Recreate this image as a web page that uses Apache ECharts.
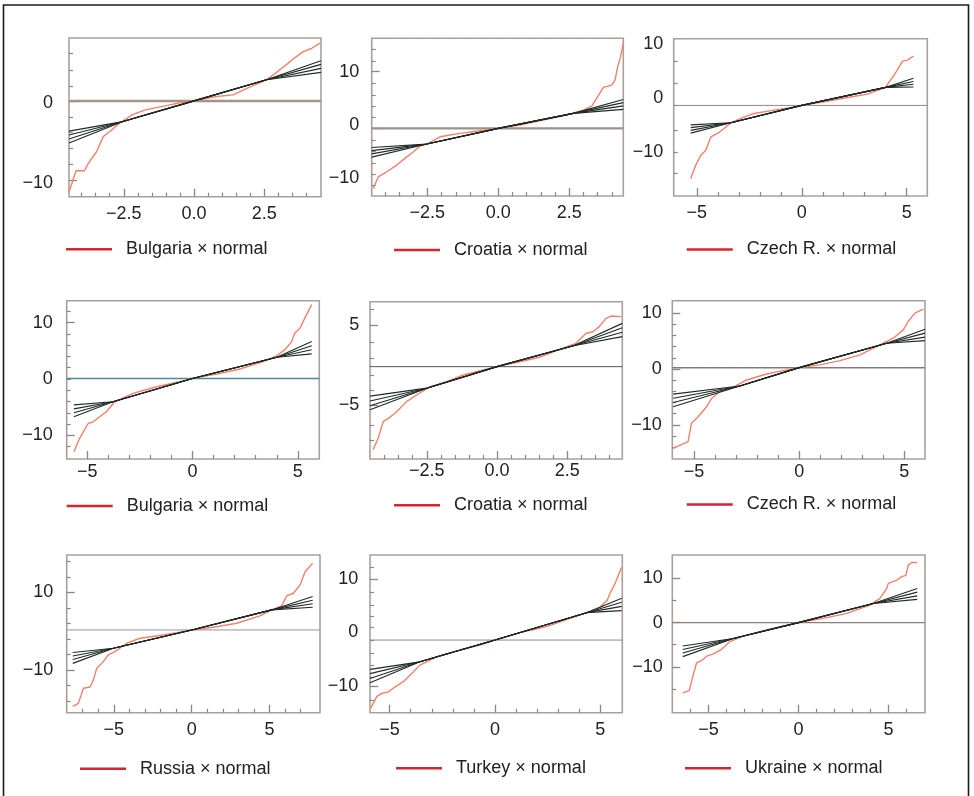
<!DOCTYPE html>
<html><head><meta charset="utf-8">
<script src="https://cdn.jsdelivr.net/npm/echarts@6/dist/echarts.min.js"></script>
<style>html,body{margin:0;padding:0;background:#fff}#c{width:974px;height:796px}</style>
</head><body><div id="c"></div><script>
// ---------- names ----------
const panelNames = ['Bulgaria × normal','Croatia × normal','Czech R. × normal','Bulgaria × normal','Croatia × normal','Czech R. × normal','Russia × normal','Turkey × normal','Ukraine × normal'];

// ---------- axis extents ----------
const xRanges = [[-4.45,4.52],[-4.46,4.40],[-6.1,5.98],[-5.98,6.02],[-4.52,4.46],[-6.03,5.98],[-8.03,8.24],[-5.93,6.04],[-7.01,7.03]];
const yRanges = [[-11.76,8.22],[-13.3,16.27],[-18.1,10.9],[-14.2,13.9],[-11.75,7.91],[-16.1,12.2],[-21.0,19.6],[-15.0,14.5],[-20.4,15.3]];

// ---------- tick labels & ticks ----------
const xLabelsDec = [-2.5,0,2.5];
const xLabelsInt = [-5,0,5];
const xMinorHalf = [-4,-3.5,-3,-2,-1.5,-1,-0.5,0.5,1,1.5,2,3,3.5,4];
const xMinorUnit = [-4,-3,-2,-1,1,2,3,4];
const xMinorRussia = [-7,-6,-4,-3,-2,-1,1,2,3,4,6,7];
const xMinorUkraine = [-6,-4,-3,-2,-1,1,2,3,4,6];

const p1YLabels = [0,-10], p1YMinor = [6.3,4.19,2.18,-1.76,-3.7,-5.67,-7.68], p1YMajor = [0.29,-9.66];
const p2YLabels = [10,0,-10], p2YMinor = [14.2,12.0,7.82,5.63,3.56,1.44,-2.81,-5.0,-7.19,-9.19,-11.26], p2YMajor = [10,-0.62];
const p3YLabels = [10,0,-10], p3YMinor = [6.77,2.66,-1.4,-5.96,-9.96,-13.95], p3YMajor = [];
const p4YLabels = [10,0,-10], p4YMinor = [12,8,6,4,2,0,-2,-4,-6,-8,-12], p4YMajor = [10,-10];
const p5YLabels = [5,-5], p5YMinor = [6.96,2.9,0.84,-1.25,-3.1,-7.5,-9.46], p5YMajor = [5,-5];
const p6YLabels = [10,0,-10], p6YMinor = [8,6,4,2,-2,-4,-6,-8,-12,-14], p6YMajor = [10,0,-10];
const p7YLabels = [10,-10], p7YMinor = [18,14,6,2,-2,-6,-14,-18], p7YMajor = [10,-10];
const p8YLabels = [10,0,-10], p8YMinor = [12.2,7.47,5.16,2.97,0.97,-1.41,-3.8,-6.1,-8.3,-12.7], p8YMajor = [10,-10];
const p9YLabels = [10,0,-10], p9YMinor = [5,-5,-15], p9YMajor = [10,0,-10];

// ---------- horizontal reference line levels ----------
const hLevels = [0.29,-0.62,-1.4,0.1,-0.21,0.23,0.3,-1.41,0];

// ---------- normal reference lines (fan): x nodes, mid values, left/right ends ----------
const p1BandX = [-4.45,-2.53,0,2.58,4.52], p1BandMid = [-2.3,0.3,2.96], p1BandL = [-3.5,-4.0,-4.5,-5.0], p1BandR = [3.9,4.4,4.9,5.36];
const p2BandX = [-4.46,-2.52,0,2.64,4.40], p2BandMid = [-3.56,-0.62,2.2], p2BandL = [-4.2,-4.8,-5.4,-6.0], p2BandR = [2.95,3.6,4.2,4.8];
const p3BandX = [-5.29,-3.38,0,4.0,5.32], p3BandMid = [-4.6,-1.4,1.92], p3BandL = [-5.0,-5.5,-6.0,-6.5], p3BandR = [2.0,2.5,3.0,3.6];
const p4BandX = [-5.64,-3.78,0,4.0,5.66], p4BandMid = [-4.04,0.1,3.86], p4BandL = [-4.6,-5.3,-6.0,-6.7], p4BandR = [4.45,5.2,5.9,6.65];
const p5BandX = [-4.52,-2.5,0,2.72,4.46], p5BandMid = [-2.9,-0.2,2.4], p5BandL = [-3.9,-4.5,-5.1,-5.6], p5BandR = [3.55,4.1,4.65,5.2];
const p6BandX = [-5.99,-2.82,0,4.16,5.98], p6BandMid = [-3.05,0.23,4.6], p6BandL = [-4.5,-5.25,-6.0,-6.75], p6BandR = [5.05,5.7,6.4,7.1];
const p7BandX = [-7.64,-5.03,0,5.14,7.77], p7BandMid = [-4.4,0.3,5.46], p7BandL = [-5.5,-6.4,-7.3,-8.3], p7BandR = [6.15,7.05,7.95,8.9];
const p8BandX = [-5.93,-3.56,0,4.35,6.01], p8BandMid = [-5.48,-1.41,3.71], p8BandL = [-6.9,-7.7,-8.6,-9.4], p8BandR = [4.1,4.9,5.65,6.4];
const p9BandX = [-6.43,-3.62,0,4.16,6.6], p9BandMid = [-3.6,0,4.33], p9BandL = [-5.3,-6.1,-6.9,-7.7], p9BandR = [5.25,6.05,6.9,7.7];

// ---------- sample quantiles (red) ----------
const p1RedX = [-4.45,-4.2,-3.9,-3.77,-3.47,-3.23,-2.94,-2.64,-2.17,-1.7,-0.99,-0.45,0,0.8,1.39,1.98,2.58,2.94,3.3,3.53,3.89,4.18,4.5];
const p1RedY = [-11.2,-8.5,-8.5,-7.6,-6.1,-4.2,-3.4,-2.45,-1.4,-0.8,-0.3,0.1,0.3,0.85,1.06,2.04,2.96,3.9,4.9,5.6,6.5,6.9,7.6];
const p2RedX = [-4.40,-4.23,-3.93,-3.58,-3.29,-2.99,-2.76,-2.52,-2.05,-1.35,-0.64,0,0.76,1.70,2.41,2.99,3.29,3.46,3.70,3.99,4.11,4.20,4.29,4.40];
const p2RedY = [-11.9,-9.7,-8.76,-7.5,-6.25,-5.0,-3.94,-3.56,-2.2,-1.56,-1.07,-0.62,0,1.07,1.88,2.81,3.56,5.0,7.07,7.5,8.44,10.9,12.5,15.3];
const p3RedX = [-5.29,-5.05,-4.81,-4.57,-4.33,-4.01,-3.70,-3.38,-2.90,-2.27,-1.32,-0.52,0,1.06,2.18,3.13,4.0,4.16,4.40,4.64,4.80,5.03,5.32];
const p3RedY = [-14.9,-12.4,-10.6,-9.65,-7.2,-6.57,-5.65,-4.6,-3.8,-2.88,-2.27,-1.77,-1.4,-0.74,0.07,0.68,1.92,2.95,4.19,5.72,6.77,6.96,7.7];
const p4RedX = [-5.64,-5.37,-4.96,-4.72,-4.42,-4.09,-3.70,-2.83,-1.71,-0.60,0,1.14,2.24,3.36,3.98,4.37,4.71,4.85,5.10,5.33,5.66];
const p4RedY = [-12.9,-10.55,-7.9,-7.6,-6.7,-5.8,-4.04,-2.54,-1.37,-0.48,0.12,0.89,1.78,3.08,4.09,5.16,6.64,8.13,9.02,10.8,13.2];
const p5RedX = [-4.41,-4.23,-4.05,-3.87,-3.63,-3.45,-3.22,-2.86,-2.38,-1.79,-1.2,-0.49,0,0.8,1.51,2.22,2.81,3.17,3.41,3.64,3.88,4.06,4.42];
const p5RedY = [-10.6,-9.16,-7.08,-6.67,-6.04,-5.41,-4.58,-3.75,-2.71,-2.08,-1.25,-0.63,-0.21,0.41,0.96,1.96,2.71,3.96,4.16,4.79,5.83,6.12,6.04];
const p6RedX = [-5.99,-5.28,-5.12,-4.80,-4.40,-4.16,-3.77,-3.14,-2.50,-1.55,-0.76,0,0.98,1.94,2.89,3.84,4.47,4.95,5.18,5.5,5.9];
const p6RedY = [-14.2,-13.0,-9.73,-8.55,-6.76,-5.25,-4.07,-3.28,-1.97,-0.9,-0.3,0.23,0.72,1.49,2.51,4.3,5.5,6.99,8.48,9.98,10.7];
const p7RedX = [-7.64,-7.28,-6.96,-6.53,-6.32,-6.1,-5.68,-5.36,-4.93,-4.17,-3.32,-2.25,-0.96,0,1.39,2.89,4.39,5.14,5.78,6.1,6.53,6.96,7.28,7.77];
const p7RedY = [-19.4,-18.6,-14.7,-14.4,-12.6,-9.55,-7.85,-6.13,-5.28,-3.11,-1.83,-1.24,-0.39,0.3,1.0,2.03,3.91,5.46,6.49,9.06,9.75,11.9,15.3,17.5];
const p8RedX = [-5.9,-5.61,-5.38,-5.06,-4.75,-4.35,-3.95,-3.56,-2.77,-1.66,-0.71,0,1.19,2.45,3.56,4.35,4.98,5.33,5.46,5.7,6.01];
const p8RedY = [-14.2,-12.0,-11.4,-11.1,-10.2,-9.2,-7.65,-6.1,-4.54,-3.28,-2.35,-1.41,-0.03,1.09,2.66,3.71,4.72,6.1,7.35,9.2,12.2];
const p9RedX = [-6.43,-6.07,-5.88,-5.66,-5.38,-5.1,-4.73,-4.27,-3.81,-3.07,-1.96,-1.03,0,1.38,2.68,3.97,4.53,4.9,4.99,5.46,5.74,5.97,6.1,6.29,6.6];
const p9RedY = [-15.9,-15.4,-12.3,-9.1,-8.6,-7.6,-7.1,-6.06,-4.3,-3.05,-1.85,-0.95,0,0.95,2.08,3.96,5.48,7.74,8.87,9.6,10.4,10.7,13.0,13.6,13.6];

// ---------- layout (positions & styles only) ----------
const layout = [
  {l:69,   t:38,    w:252,   h:158.7, ym:16,   xm:8, legL:66,  legY:248.3, hc:'#a39389', hw:2.4},
  {l:371.7,t:38.3,  w:251.6, h:157.7, ym:12.4, xm:8, legL:394, legY:249,   hc:'#9d918b', hw:2.4},
  {l:673.7,t:38.7,  w:253.6, h:157.3, ym:10.4, xm:8, legL:686.7,legY:248.5,hc:'#8f8a88', hw:1},
  {l:66.7, t:300.7, w:252.6, h:158.3, ym:14,   xm:4, legL:66.7,legY:505,   hc:'#4b8a9a', hw:1.4},
  {l:370,  t:301.7, w:252.3, h:157.3, ym:10.7, xm:3, legL:394, legY:504.3, hc:'#5a5552', hw:1},
  {l:672.3,t:300.7, w:252.7, h:158.3, ym:10.6, xm:4, legL:686.7,legY:503.5,hc:'#857a76', hw:1.5},
  {l:66.7, t:555,   w:253.3, h:157.7, ym:13.4, xm:8, legL:80,  legY:767.7, hc:'#9a9694', hw:1},
  {l:370,  t:555,   w:252.3, h:157.7, ym:11.7, xm:8, legL:396, legY:767.3, hc:'#8d8986', hw:1},
  {l:672.3,t:555,   w:252.7, h:157.7, ym:9.6,  xm:8, legL:685, legY:767.3, hc:'#8a7f7a', hw:1.2}
];

const panels = [
  {xl:xLabelsDec, xmin:xMinorHalf, yl:p1YLabels, ymin:p1YMinor, ymaj:p1YMajor, bx:p1BandX, bm:p1BandMid, bL:p1BandL, bR:p1BandR, rx:p1RedX, ry:p1RedY, dec:true},
  {xl:xLabelsDec, xmin:xMinorHalf, yl:p2YLabels, ymin:p2YMinor, ymaj:p2YMajor, bx:p2BandX, bm:p2BandMid, bL:p2BandL, bR:p2BandR, rx:p2RedX, ry:p2RedY, dec:true},
  {xl:xLabelsInt, xmin:xMinorUnit, yl:p3YLabels, ymin:p3YMinor, ymaj:p3YMajor, bx:p3BandX, bm:p3BandMid, bL:p3BandL, bR:p3BandR, rx:p3RedX, ry:p3RedY, dec:false},
  {xl:xLabelsInt, xmin:xMinorUnit, yl:p4YLabels, ymin:p4YMinor, ymaj:p4YMajor, bx:p4BandX, bm:p4BandMid, bL:p4BandL, bR:p4BandR, rx:p4RedX, ry:p4RedY, dec:false},
  {xl:xLabelsDec, xmin:xMinorHalf, yl:p5YLabels, ymin:p5YMinor, ymaj:p5YMajor, bx:p5BandX, bm:p5BandMid, bL:p5BandL, bR:p5BandR, rx:p5RedX, ry:p5RedY, dec:true},
  {xl:xLabelsInt, xmin:xMinorUnit, yl:p6YLabels, ymin:p6YMinor, ymaj:p6YMajor, bx:p6BandX, bm:p6BandMid, bL:p6BandL, bR:p6BandR, rx:p6RedX, ry:p6RedY, dec:false},
  {xl:xLabelsInt, xmin:xMinorRussia, yl:p7YLabels, ymin:p7YMinor, ymaj:p7YMajor, bx:p7BandX, bm:p7BandMid, bL:p7BandL, bR:p7BandR, rx:p7RedX, ry:p7RedY, dec:false},
  {xl:xLabelsInt, xmin:xMinorUnit, yl:p8YLabels, ymin:p8YMinor, ymaj:p8YMajor, bx:p8BandX, bm:p8BandMid, bL:p8BandL, bR:p8BandR, rx:p8RedX, ry:p8RedY, dec:false},
  {xl:xLabelsInt, xmin:xMinorUkraine, yl:p9YLabels, ymin:p9YMinor, ymaj:p9YMajor, bx:p9BandX, bm:p9BandMid, bL:p9BandL, bR:p9BandR, rx:p9RedX, ry:p9RedY, dec:false}
];

const FONT = '"Liberation Sans", Arial, Helvetica, sans-serif';
const TEXT = '#222';
const TICK = '#8d8782';
const MINUS = '\u2212';
function fmt(v, dec) {
  const s = dec ? Math.abs(v).toFixed(1) : String(Math.abs(v));
  return v < 0 ? MINUS + s : s;
}

const grid = [], xAxis = [], yAxis = [], series = [], legend = [];
panels.forEach((p, i) => {
  const L = layout[i];
  grid.push({left:L.l, top:L.t, width:L.w, height:L.h, show:true, borderColor:'#a9a09a', borderWidth:1.6, backgroundColor:'transparent', containLabel:false});
  const [x0, x1] = xRanges[i], [y0, y1] = yRanges[i];
  const base = {type:'value', gridIndex:i, splitLine:{show:false}, axisLine:{show:false, onZero:false}};
  xAxis.push(Object.assign({}, base, {min:x0, max:x1, position:'bottom',
    axisTick:{show:true, inside:true, length:4, customValues:p.xmin, lineStyle:{color:TICK, width:1.2}},
    axisLabel:{show:true, customValues:p.xl, margin:L.xm, fontSize:18, fontFamily:FONT, color:TEXT, formatter:v => fmt(v, p.dec)}}));
  xAxis.push(Object.assign({}, base, {min:x0, max:x1, position:'bottom',
    axisTick:{show:true, inside:true, length:8, customValues:p.xl, lineStyle:{color:TICK, width:1.3}},
    axisLabel:{show:false}}));
  yAxis.push(Object.assign({}, base, {min:y0, max:y1, position:'left',
    axisTick:{show:true, inside:true, length:4, customValues:p.ymin, lineStyle:{color:TICK, width:1.2}},
    axisLabel:{show:true, customValues:p.yl, margin:L.ym, fontSize:18, fontFamily:FONT, color:TEXT, formatter:v => fmt(v, false)}}));
  yAxis.push(Object.assign({}, base, {min:y0, max:y1, position:'left',
    axisTick:{show:p.ymaj.length > 0, inside:true, length:8, customValues:p.ymaj.length ? p.ymaj : [y0], lineStyle:{color:TICK, width:1.3}},
    axisLabel:{show:false}}));
  const xi = 2 * i, yi = 2 * i;
  // horizontal reference line
  series.push({type:'line', xAxisIndex:xi, yAxisIndex:yi, name:'h' + i, silent:true, symbol:'none', z:2,
    data:[[x0, hLevels[i]], [x1, hLevels[i]]], lineStyle:{color:L.hc, width:L.hw}});
  // sample quantiles
  series.push({type:'line', xAxisIndex:xi, yAxisIndex:yi, name:panelNames[i], silent:true, symbol:'none', z:3,
    data:p.rx.map((x, k) => [x, p.ry[k]]), lineStyle:{color:'#f3806b', width:1.4}, itemStyle:{color:'#d8242c'}});
  // normal fan lines
  p.bL.forEach((lv, k) => {
    const ys = [lv, p.bm[0], p.bm[1], p.bm[2], p.bR[k]];
    series.push({type:'line', xAxisIndex:xi, yAxisIndex:yi, name:'n' + i + '_' + k, silent:true, symbol:'none', z:4,
      data:p.bx.map((x, j) => [x, ys[j]]), lineStyle:{color:'#1f2b25', width:1.15}});
  });
  legend.push({data:[{name:panelNames[i], icon:'rect', itemStyle:{color:'#d8242c', borderWidth:0}}],
    left:L.legL, top:L.legY - 8, itemWidth:46, itemHeight:2.6, padding:0, selectedMode:false,
    textStyle:{fontSize:18, fontFamily:FONT, color:TEXT, padding:[0,0,0,9]}});
});

const chart = echarts.init(document.getElementById('c'), null, {renderer:'canvas'});
chart.setOption({
  animation:false,
  backgroundColor:'#ffffff',
  grid, xAxis, yAxis, series, legend,
  graphic:[{type:'rect', silent:true, z:100, shape:{x:3.5, y:5, width:965, height:830}, style:{fill:'none', stroke:'#1c1c1c', lineWidth:1.6}}]
});
</script></body></html>
